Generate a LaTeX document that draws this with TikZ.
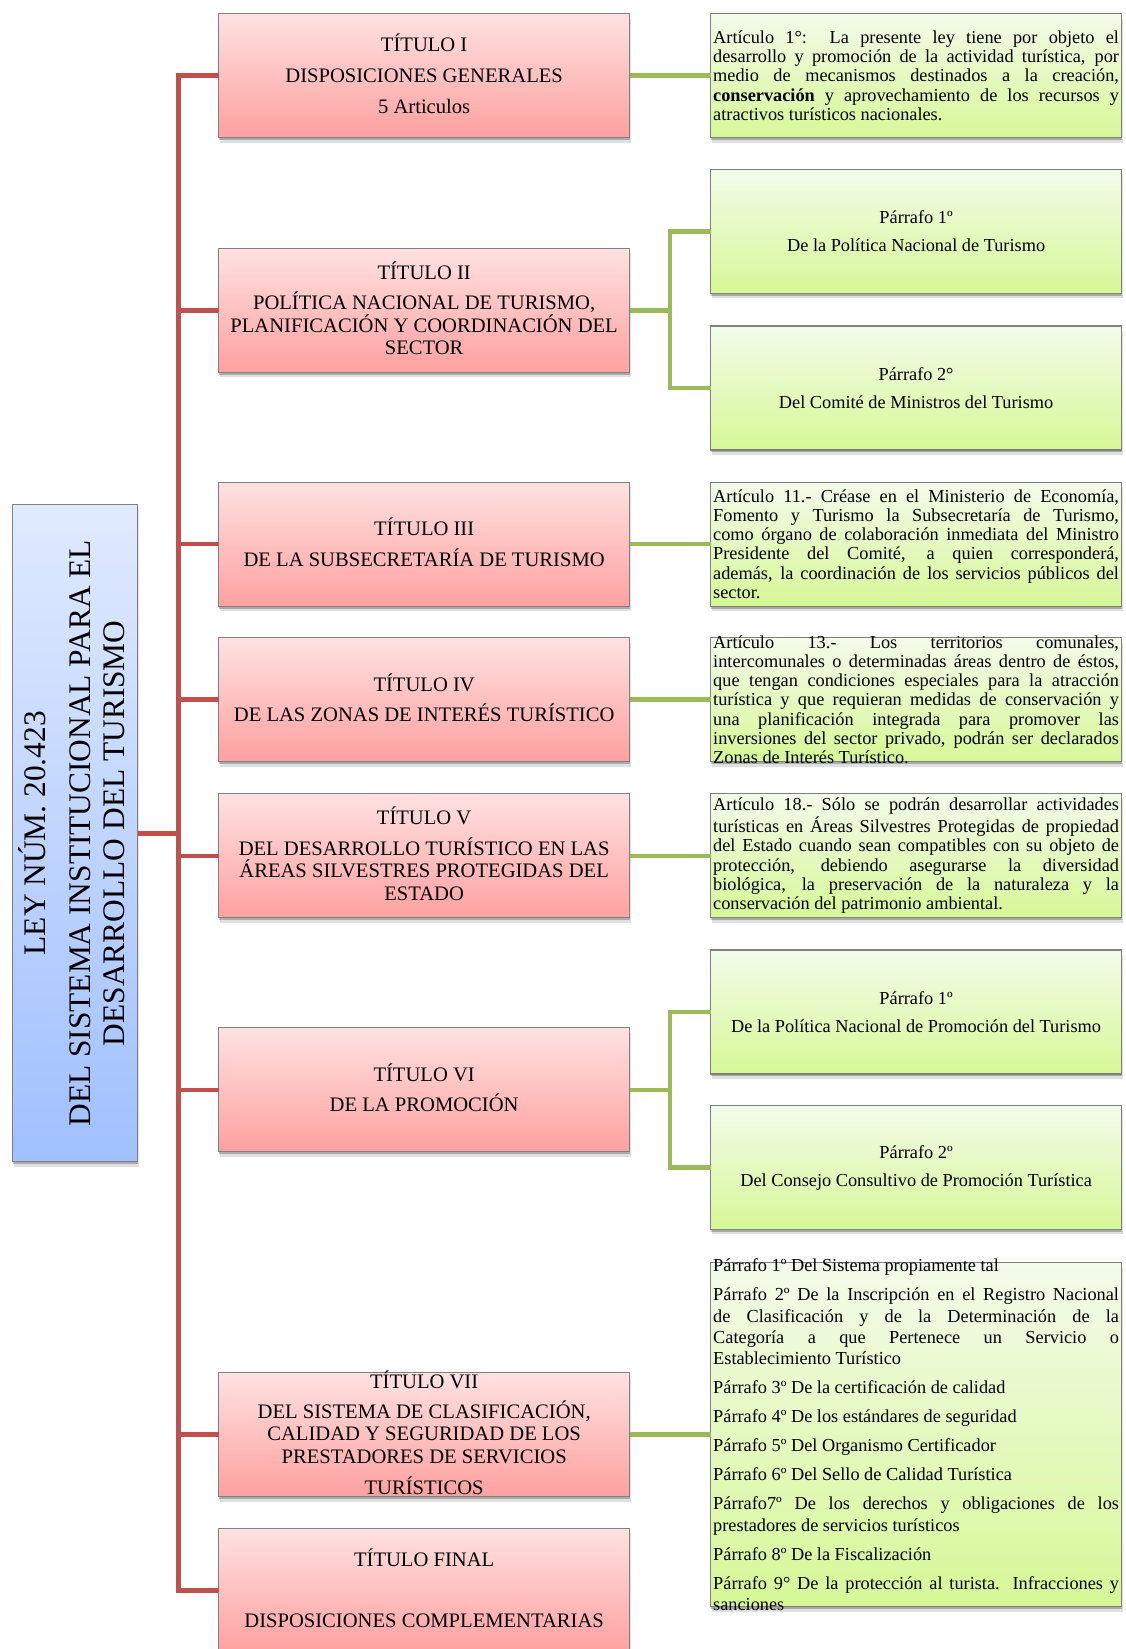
\documentclass[tikz,border=0pt]{standalone}
\usepackage{fontspec}
\setmainfont{Liberation Serif}
\usetikzlibrary{shadows}
\definecolor{redline}{RGB}{192,80,77}
\definecolor{greenline}{RGB}{155,187,89}
\definecolor{pinktop}{RGB}{255,225,225}
\definecolor{pinkbot}{RGB}{255,160,160}
\definecolor{greentop}{RGB}{243,251,234}
\definecolor{greenbot}{RGB}{214,248,150}
\definecolor{bluetop}{RGB}{224,234,255}
\definecolor{bluebot}{RGB}{160,192,255}
\definecolor{boxborder}{RGB}{128,128,128}
\setlength{\parindent}{0pt}
\tolerance=10000 \hbadness=10000 \hyphenpenalty=10000 \exhyphenpenalty=10000
\tikzset{
  boxbase/.style={rectangle, draw=boxborder, line width=0.6pt, inner sep=0pt, outer sep=0pt,
    drop shadow={shadow xshift=0.3pt, shadow yshift=-1.2pt, opacity=0.24, fill=black},
    drop shadow={shadow xshift=0.6pt, shadow yshift=-2.4pt, opacity=0.12, fill=black}},
  pinkbox/.style={boxbase, top color=pinktop, bottom color=pinkbot, minimum width=205.45pt, minimum height=62pt},
  greenbox/.style={boxbase, top color=greentop, bottom color=greenbot, minimum width=205.4pt, minimum height=62pt},
  leybox/.style={boxbase, top color=bluetop, bottom color=bluebot, minimum width=62.55pt, minimum height=328.55pt},
  redconn/.style={draw=redline, line width=2.3pt},
  greenconn/.style={draw=greenline, line width=2.3pt},
  titletxt/.style={align=center, inner sep=0pt, yshift=1pt, font=\fontsize{10.3}{11.2}\selectfont},
  paratxt/.style={text width=202.9pt, align=justify, inner sep=0pt, font=\fontsize{9.15}{9.65}\selectfont},
  listtxt/.style={text width=202.9pt, align=justify, inner sep=0pt, font=\fontsize{9.15}{10.65}\selectfont},
  centtxt/.style={align=center, inner sep=0pt, font=\fontsize{9.15}{9.65}\selectfont},
  leytxt/.style={xshift=-1.6pt, rotate=90, align=center, inner sep=0pt, font=\fontsize{15.7}{17.35}\selectfont}
}
\begin{document}
\begin{tikzpicture}[x=0.5pt, y=-0.5pt]
\useasboundingbox (0,0) rectangle (1125,1649);
\clip (0,0) rectangle (1125,1649);

% left box
\node[leybox] (ley) at (75.15,833.25) {};

% title boxes
\node[pinkbox] (t1) at (424.15,75.7) {};
\node[pinkbox] (t2) at (424.15,310.2) {};
\node[pinkbox] (t3) at (424.15,544.1) {};
\node[pinkbox] (t4) at (424.15,699.7) {};
\node[pinkbox] (t5) at (424.15,855.8) {};
\node[pinkbox] (t6) at (424.15,1089.8) {};
\node[pinkbox] (t7) at (424.15,1434.7) {};
\node[pinkbox] (tf) at (424.15,1590.3) {};

% right boxes
\node[greenbox] (a1) at (916.1,75.7) {};
\node[greenbox] (p1a) at (916.1,231.5) {};
\node[greenbox] (p2a) at (916.1,388) {};
\node[greenbox] (a11) at (916.1,544.1) {};
\node[greenbox] (a13) at (916.1,699.7) {};
\node[greenbox] (a18) at (916.1,855.8) {};
\node[greenbox] (p1b) at (916.1,1012) {};
\node[greenbox] (p2b) at (916.1,1167.6) {};
\node[greenbox, minimum height=172pt] (lst) at (916.1,1434.7) {};

% red connectors
\coordinate (rj) at (178.5,833.25);
\draw[redconn] (t1.west) -| (tf.west -| rj) -- (tf.west);
\draw[redconn] (ley.east) -- (rj);
\foreach \n in {t2,t3,t4,t5,t6,t7}{
  \draw[redconn] (\n.west) -- (\n.west -| rj);
}

% green connectors
\coordinate (gj2) at (670,310.2);
\coordinate (gj6) at (670,1089.8);
\draw[greenconn] (t1.east) -- (a1.west);
\draw[greenconn] (t2.east) -- (gj2);
\draw[greenconn] (p1a.west) -| (gj2) |- (p2a.west);
\draw[greenconn] (t3.east) -- (a11.west);
\draw[greenconn] (t4.east) -- (a13.west);
\draw[greenconn] (t5.east) -- (a18.west);
\draw[greenconn] (t6.east) -- (gj6);
\draw[greenconn] (p1b.west) -| (gj6) |- (p2b.west);
\draw[greenconn] (t7.east) -- (lst.west);

% left text
\node[leytxt] (leytext) at (ley) {LEY NÚM. 20.423\\[4.75pt]DEL SISTEMA INSTITUCIONAL PARA EL\\DESARROLLO DEL TURISMO};

% title texts
\node[titletxt] (t1txt) at (t1) {TÍTULO I\\[4.5pt]DISPOSICIONES GENERALES\\[4.5pt]5 Articulos};
\node[titletxt] (t2txt) at (t2) {TÍTULO II\\[4pt]POLÍTICA NACIONAL DE TURISMO,\\PLANIFICACIÓN Y COORDINACIÓN DEL\\SECTOR};
\node[titletxt] (t3txt) at (t3) {TÍTULO III\\[4pt]DE LA SUBSECRETARÍA DE TURISMO};
\node[titletxt] (t4txt) at (t4) {TÍTULO IV\\[4pt]DE LAS ZONAS DE INTERÉS TURÍSTICO};
\node[titletxt] (t5txt) at (t5) {TÍTULO V\\[4pt]DEL DESARROLLO TURÍSTICO EN LAS\\ÁREAS SILVESTRES PROTEGIDAS DEL\\ESTADO};
\node[titletxt] (t6txt) at (t6) {TÍTULO VI\\[4pt]DE LA PROMOCIÓN};
\node[titletxt] (t7txt) at (t7) {TÍTULO VII\\[3.6pt]DEL SISTEMA DE CLASIFICACIÓN,\\CALIDAD Y SEGURIDAD DE LOS\\PRESTADORES DE SERVICIOS\\[4.2pt]TURÍSTICOS};
\node[titletxt] (tftxt) at (tf) {TÍTULO FINAL\\[19.5pt]DISPOSICIONES COMPLEMENTARIAS};

% right texts
\node[paratxt] (a1txt) at (a1) {Artículo 1°:\ \ La presente ley tiene por objeto el\linebreak
desarrollo y promoción de la actividad turística, por\linebreak
medio de mecanismos destinados a la creación,\linebreak
\textbf{conservación} y aprovechamiento de los recursos y\linebreak
atractivos turísticos nacionales.};
\node[centtxt] (p1atxt) at (p1a) {Párrafo 1º\\[4.35pt]De la Política Nacional de Turismo};
\node[centtxt] (p2atxt) at (p2a) {Párrafo 2°\\[4.35pt]Del Comité de Ministros del Turismo};
\node[paratxt] (a11txt) at (a11) {Artículo 11.- Créase en el Ministerio de Economía,\linebreak
Fomento y Turismo la Subsecretaría de Turismo,\linebreak
como órgano de colaboración inmediata del Ministro\linebreak
Presidente del Comité, a quien corresponderá,\linebreak
además, la coordinación de los servicios públicos del\linebreak
sector.};
\node[paratxt] (a13txt) at (a13) {Artículo 13.- Los territorios comunales,\linebreak
intercomunales o determinadas áreas dentro de éstos,\linebreak
que tengan condiciones especiales para la atracción\linebreak
turística y que requieran medidas de conservación y\linebreak
una planificación integrada para promover las\linebreak
inversiones del sector privado, podrán ser declarados\linebreak
Zonas de Interés Turístico.};
\node[paratxt] (a18txt) at (a18) {Artículo 18.- Sólo se podrán desarrollar actividades\linebreak
turísticas en Áreas Silvestres Protegidas de propiedad\linebreak
del Estado cuando sean compatibles con su objeto de\linebreak
protección, debiendo asegurarse la diversidad\linebreak
biológica, la preservación de la naturaleza y la\linebreak
conservación del patrimonio ambiental.};
\node[centtxt] (p1btxt) at (p1b) {Párrafo 1º\\[4.35pt]De la Política Nacional de Promoción del Turismo};
\node[centtxt] (p2btxt) at (p2b) {Párrafo 2º\\[4.35pt]Del Consejo Consultivo de Promoción Turística};
\node[listtxt] (lsttxt) at (lst) {Párrafo 1º Del Sistema propiamente tal\\[3.85pt]
Párrafo 2º De la Inscripción en el Registro Nacional\linebreak
de Clasificación y de la Determinación de la\linebreak
Categoría a que Pertenece un Servicio o\linebreak
Establecimiento Turístico\\[3.85pt]
Párrafo 3º De la certificación de calidad\\[3.85pt]
Párrafo 4º De los estándares de seguridad\\[3.85pt]
Párrafo 5º Del Organismo Certificador\\[3.85pt]
Párrafo 6º Del Sello de Calidad Turística\\[3.85pt]
Párrafo7º De los derechos y obligaciones de los\linebreak
prestadores de servicios turísticos\\[3.85pt]
Párrafo 8º De la Fiscalización\\[3.85pt]
Párrafo 9° De la protección al turista. Infracciones y\linebreak
sanciones};
\end{tikzpicture}
\end{document}
